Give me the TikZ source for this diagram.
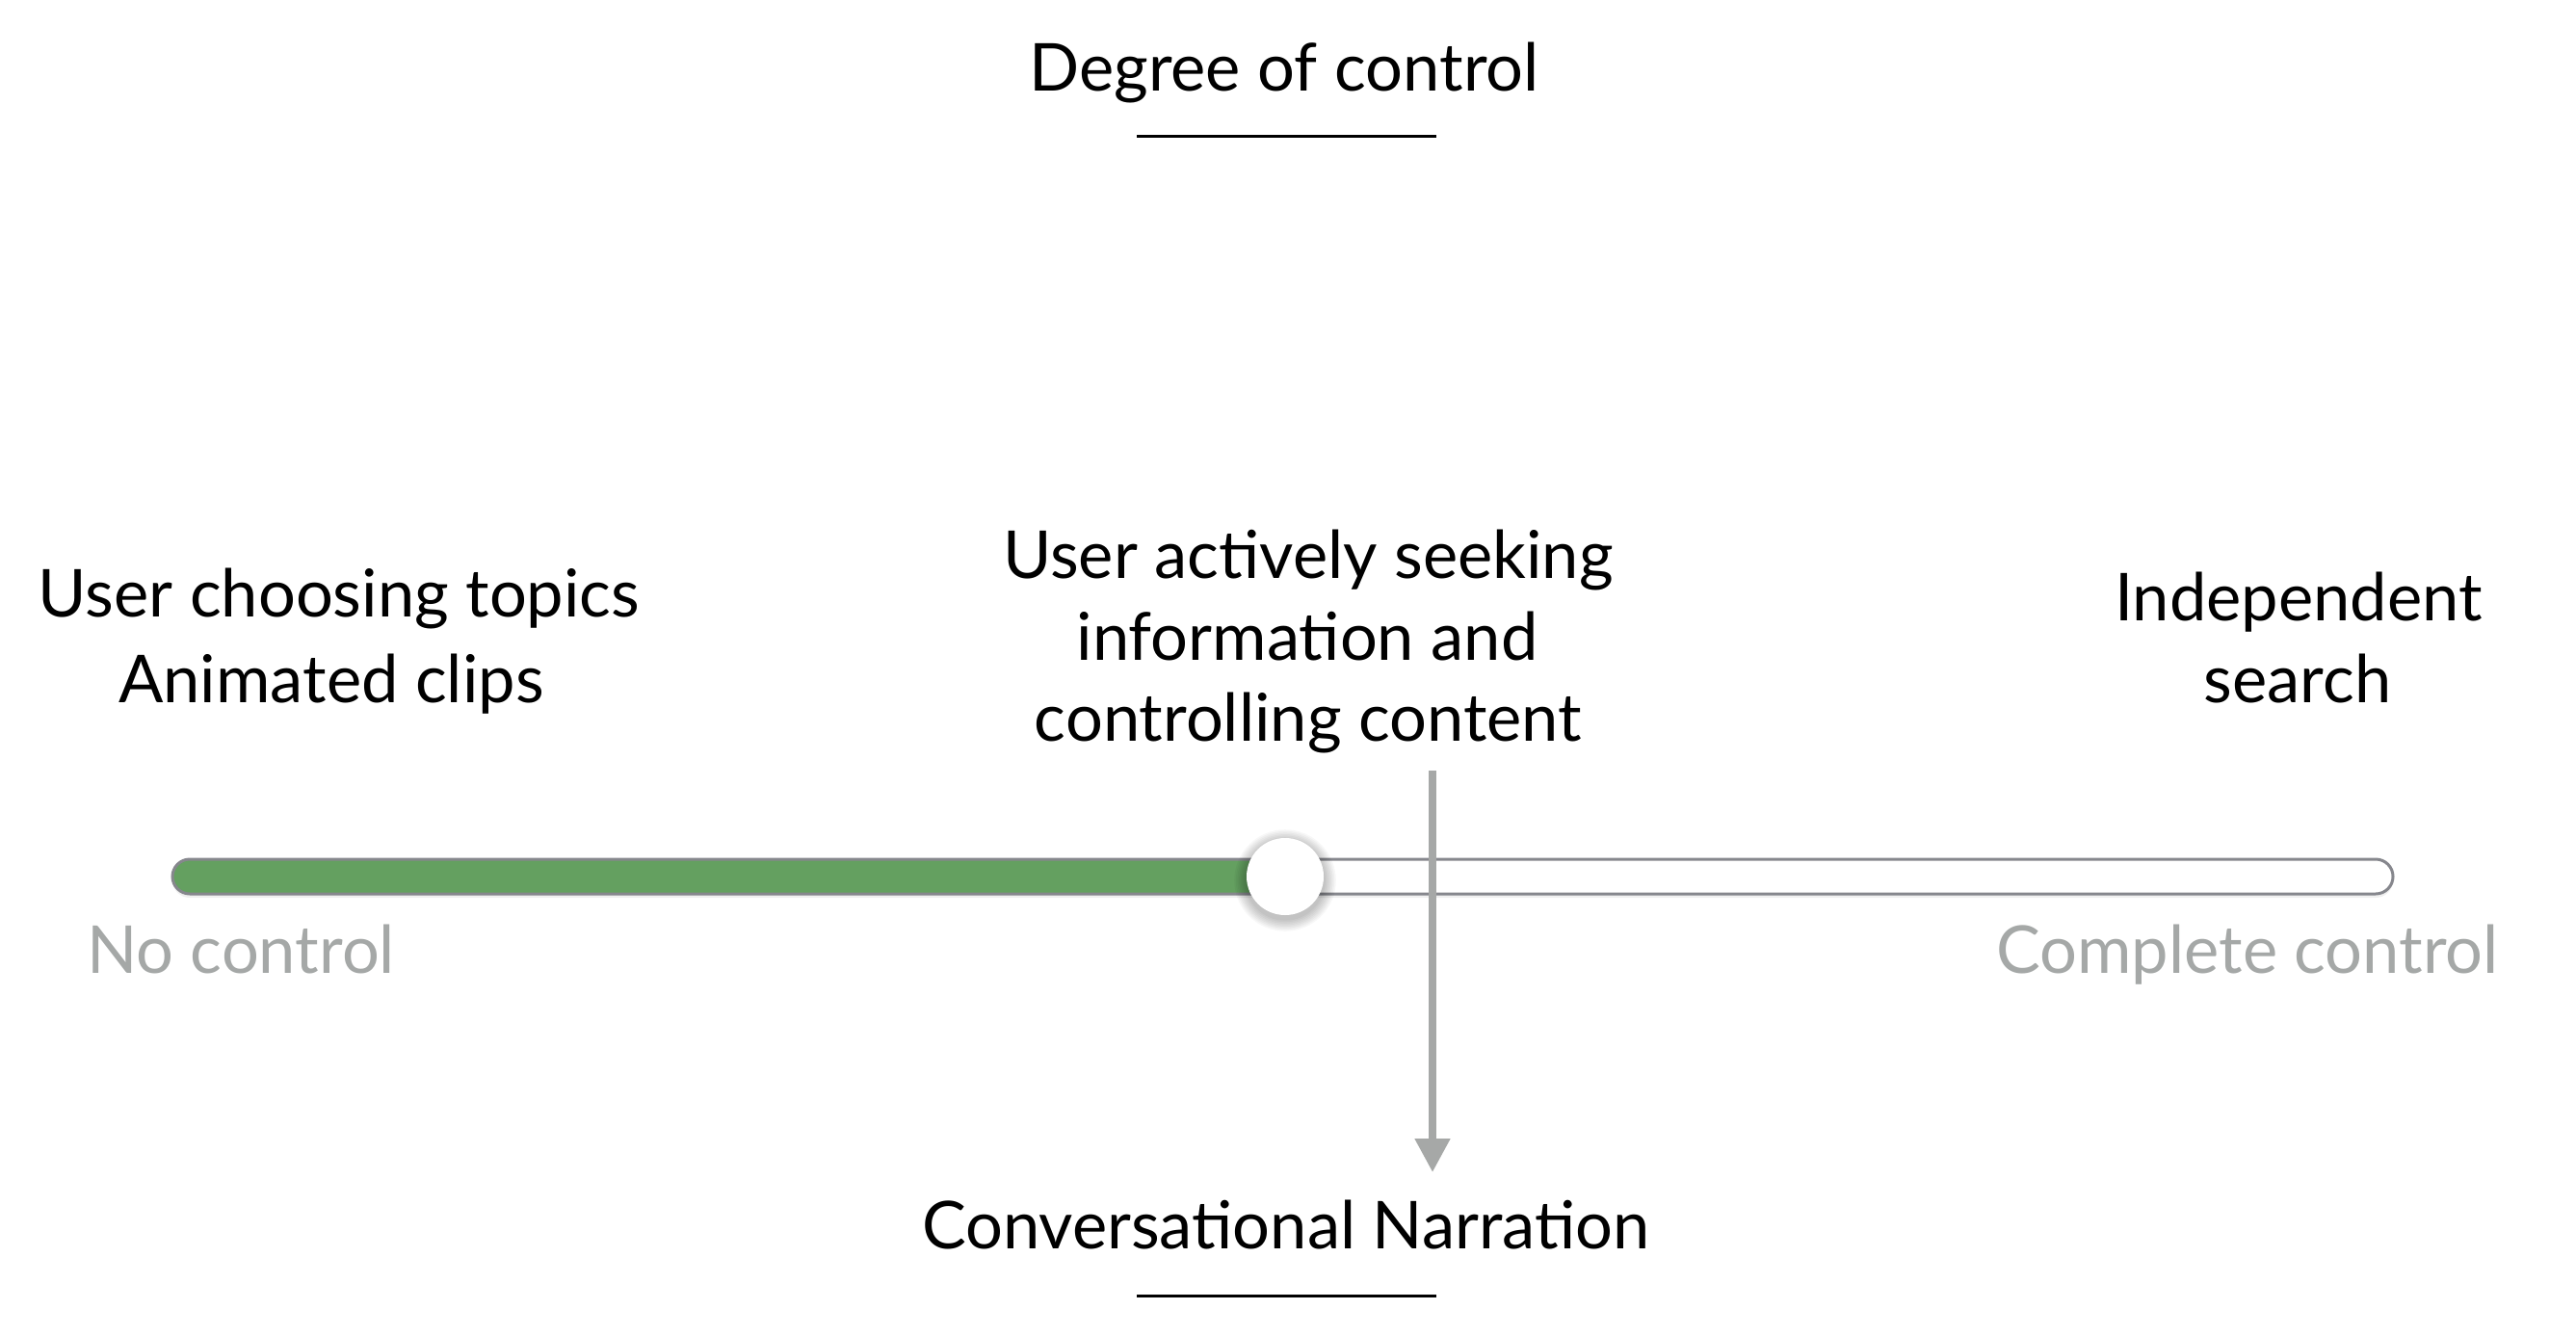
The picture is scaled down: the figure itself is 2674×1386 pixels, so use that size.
\documentclass[tikz,border=0pt]{standalone}
\usepackage{fontspec}
\setmainfont{Lato}
\usetikzlibrary{arrows.meta}
\definecolor{barGreen}{RGB}{100,160,96}
\definecolor{barEdge}{RGB}{134,135,141}
\definecolor{lightText}{RGB}{165,168,167}
\definecolor{arrowGray}{RGB}{166,168,167}
\begin{document}
\begin{tikzpicture}[x=0.5pt,y=-0.5pt,
  lbl/.style={inner sep=0pt, anchor=base, font=\fontsize{34.3}{41}\selectfont, text=black},
  endlbl/.style={lbl, text=lightText},
  headrule/.style={line width=1.5pt, black},
  pointer/.style={arrowGray, line width=4pt, -{Triangle[width=17.5pt,length=17.5pt]}},
  knobstyle/.style={circle, fill=white, minimum size=40pt, inner sep=0pt}]
\useasboundingbox[fill=white] (0,0) rectangle (2674,1386);

% title
\node[lbl] (title) at (1333,95) {Degree of control};
\draw[headrule] (1180,141) -- (1491,141);

% upper labels
\node[lbl] (left1) at (352,640) {User choosing topics};
\node[lbl] (left2) at (344,729) {Animated clips};
\node[lbl] (mid1) at (1358,600) {User actively seeking};
\node[lbl] (mid2) at (1357,685) {information and};
\node[lbl] (mid3) at (1358,769) {controlling content};
\node[lbl] (right1) at (2386,644) {Independent};
\node[lbl] (right2) at (2385,729) {search};

% slider bar
\fill[black, opacity=0.06, rounded corners=9pt] (179,895) rectangle (2484,932);
\fill[white, rounded corners=9pt] (179,892) rectangle (2484,928);
\fill[barGreen, rounded corners=9pt] (179,892) rectangle (1334,928);
\draw[barEdge, line width=1.5pt, rounded corners=9pt] (179,892) rectangle (2484,928);

% knob with soft shadow
\foreach \r in {1,...,8}{
  \fill[black, opacity=0.03] (1334,914) circle ({20pt+\r*0.8pt});
}
\node[knobstyle] (knob) at (1334,910) {};

% end labels
\node[endlbl] (noctl) at (250,1010) {No control};
\node[endlbl] (fullctl) at (2333,1010) {Complete control};

% pointer arrow
\coordinate (arrTop) at (1487,800);
\coordinate (arrTip) at (1487,1217);
\draw[pointer] (arrTop) -- (arrTip);

% bottom label
\node[lbl] (conv) at (1335,1296) {Conversational Narration};
\draw[headrule] (1180,1345) -- (1491,1345);
\end{tikzpicture}
\end{document}
